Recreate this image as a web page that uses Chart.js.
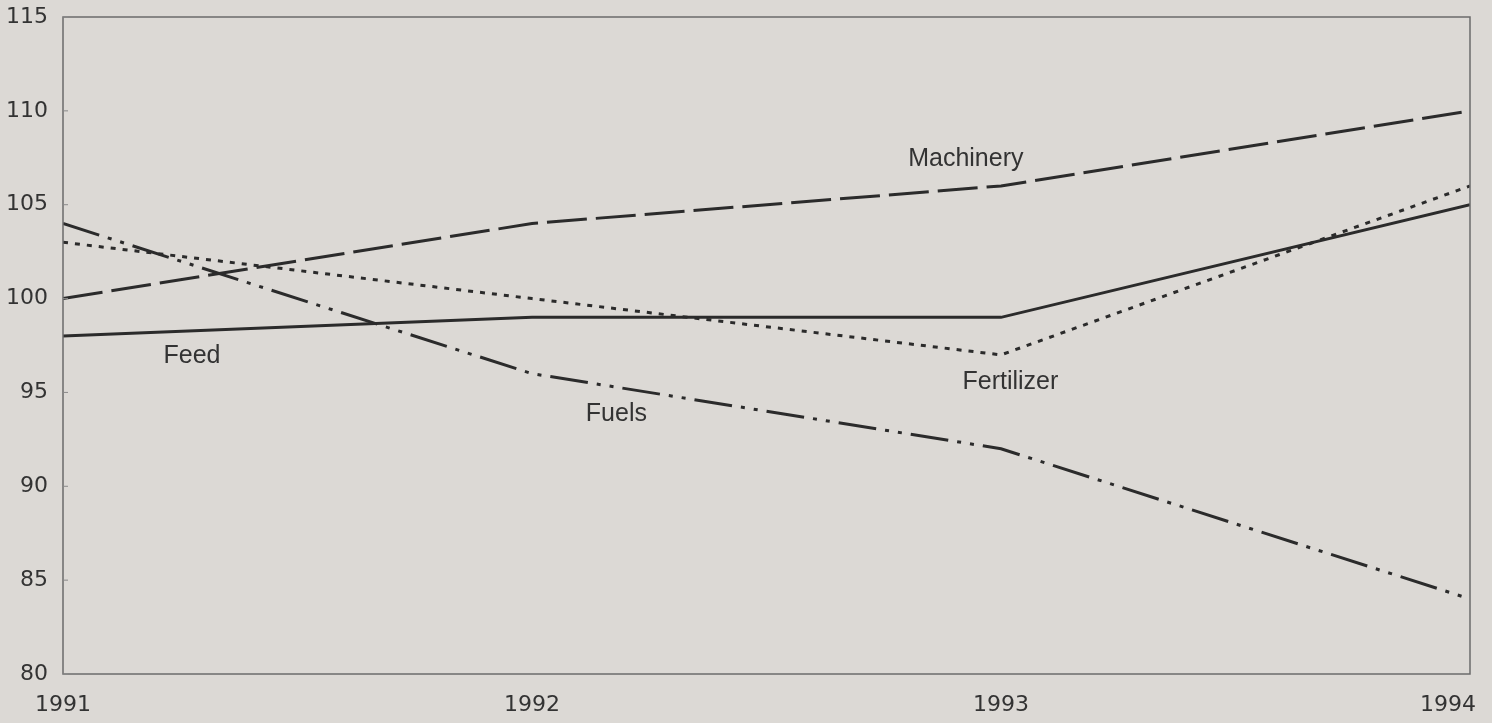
<!DOCTYPE html>
<html>
<head>
<meta charset="utf-8">
<script src="https://cdn.jsdelivr.net/npm/chart.js@4.4.1/dist/chart.umd.min.js"></script>
<style>
  html, body { margin: 0; padding: 0; background: #dcd9d5; }
  #wrap { width: 1492px; height: 723px; }
</style>
</head>
<body>
<div id="wrap"><canvas id="priceChart"></canvas></div>
<script>
const years = [1991, 1992, 1993, 1994];
const yTicks = [80, 85, 90, 95, 100, 105, 110, 115];

const machinery = [100, 104, 106, 110];
const feed = [98, 99, 99, 105];
const fertilizer = [103, 100, 97, 106];
const fuels = [104, 96, 92, 84];

// series names written next to the lines: [text, year, value]
const seriesLabels = [
  ["Machinery", 1992.925, 107.45],
  ["Feed", 1991.275, 96.95],
  ["Fuels", 1992.18, 93.85],
  ["Fertilizer", 1993.02, 95.55]
];

const INK = "#2b2b2b";
const BG = "#dcd9d5";
const TICK_FONT = "'DejaVu Sans', 'Liberation Sans', sans-serif";

function series(label, values, dash) {
  return {
    label: label,
    data: values.map((v, i) => ({ x: years[i], y: v })),
    borderColor: INK,
    borderWidth: 3,
    borderDash: dash,
    pointRadius: 0,
    tension: 0,
    fill: false
  };
}

const framePlugin = {
  id: "frame",
  beforeDraw(chart) {
    const ctx = chart.ctx;
    ctx.save();
    ctx.fillStyle = BG;
    ctx.fillRect(0, 0, chart.width, chart.height);
    ctx.restore();
  },
  afterDraw(chart) {
    const ctx = chart.ctx;
    const a = chart.chartArea;
    const x = chart.scales.x;
    const y = chart.scales.y;
    ctx.save();
    // box round the plot
    ctx.strokeStyle = "#6b6b6b";
    ctx.lineWidth = 1.5;
    ctx.strokeRect(a.left, a.top, a.right - a.left, a.bottom - a.top);

    // short ticks pointing into the plot
    ctx.strokeStyle = "#8a8a8a";
    ctx.lineWidth = 1;
    yTicks.forEach(v => {
      const py = y.getPixelForValue(v);
      ctx.beginPath();
      ctx.moveTo(a.left, py);
      ctx.lineTo(a.left + 5, py);
      ctx.stroke();
    });

    // year labels under the axis
    ctx.fillStyle = "#333";
    ctx.font = "22px " + TICK_FONT;
    ctx.textBaseline = "middle";
    years.forEach((yr, i) => {
      const px = x.getPixelForValue(yr);
      if (i === years.length - 1) {
        ctx.textAlign = "right";
        ctx.fillText(String(yr), px + 6, 705);
      } else {
        ctx.textAlign = "center";
        ctx.fillText(String(yr), px, 705);
      }
    });

    // series names
    ctx.font = "25px 'Liberation Sans', Arial, sans-serif";
    ctx.textAlign = "center";
    seriesLabels.forEach(([text, yr, v]) => {
      ctx.fillText(text, x.getPixelForValue(yr), y.getPixelForValue(v));
    });
    ctx.restore();
  }
};

new Chart(document.getElementById("priceChart"), {
  type: "line",
  data: {
    datasets: [
      series("Machinery", machinery, [40, 9]),
      series("Feed", feed, []),
      series("Fertilizer", fertilizer, [5, 7]),
      series("Fuels", fuels, [38, 9, 4, 9, 4, 9])
    ]
  },
  options: {
    responsive: true,
    maintainAspectRatio: false,
    animation: false,
    layout: { padding: { top: 17, right: 22, left: 0, bottom: 0 } },
    plugins: {
      legend: { display: false },
      tooltip: { enabled: false }
    },
    scales: {
      x: {
        type: "linear",
        min: 1991,
        max: 1994,
        grid: { display: false },
        border: { display: false },
        ticks: { display: false, stepSize: 1 },
        afterFit(scale) {
          scale.height = 49;
          scale.paddingLeft = 0;
          scale.paddingRight = 0;
        }
      },
      y: {
        min: 80,
        max: 115,
        grid: { display: false, drawTicks: false },
        border: { display: false },
        afterBuildTicks(scale) { scale.ticks = yTicks.map(v => ({ value: v })); },
        ticks: {
          padding: 15,
          color: "#333",
          font: { family: TICK_FONT, size: 22 }
        },
        afterFit(scale) {
          scale.width = 63;
          scale.paddingTop = 0;
          scale.paddingBottom = 0;
        }
      }
    }
  },
  plugins: [framePlugin]
});
</script>
</body>
</html>
